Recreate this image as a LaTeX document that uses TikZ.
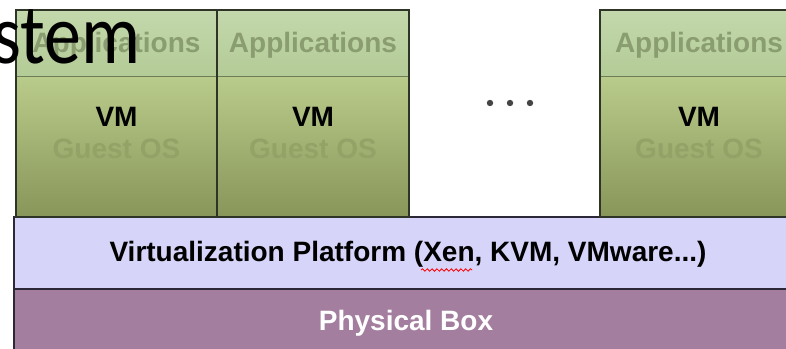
\documentclass[tikz,border=0pt]{standalone}
\usepackage{fontspec}
\setmainfont{Liberation Sans}
\newfontfamily\titlefont{Carlito}
\usetikzlibrary{decorations.pathmorphing}
\definecolor{appgreentop}{HTML}{C3D8AC}
\definecolor{appgreen}{HTML}{B3CB96}
\definecolor{apptext}{HTML}{8A9D70}
\definecolor{appline}{HTML}{6E7F57}
\definecolor{vmtop}{HTML}{B9CB8B}
\definecolor{vmbottom}{HTML}{889659}
\definecolor{ostext}{HTML}{93A368}
\definecolor{boxline}{HTML}{2E3526}
\definecolor{platfill}{HTML}{D6D4F8}
\definecolor{platline}{HTML}{2C2838}
\definecolor{physfill}{HTML}{A47E9F}
\definecolor{dotgray}{HTML}{454545}

\begin{document}
\begin{tikzpicture}[x=0.5pt, y=0.5pt,
    labelfont/.style={font=\bfseries\fontsize{14}{14}\selectfont, inner sep=0pt},
    applabel/.style={labelfont, text=apptext},
    vmlabel/.style={labelfont, text=black},
    oslabel/.style={labelfont, text=ostext}]
  \useasboundingbox (0,0) rectangle (786,348);
  \clip (0,0) rectangle (786,348);
  \fill[white] (0,0) rectangle (786,348);
  % Platform: y = 59 to 131
  \draw[fill=platfill, draw=platline, line width=0.9pt]
    (14,59) rectangle (802,131);
  \node[labelfont] (platform) at (408,94) {Virtualization Platform (Xen, KVM, VMware...)};
  \draw[red, line width=0.4pt, decorate,
    decoration={snake, amplitude=0.6pt, segment length=2.4pt}]
    (421,78) -- (472,78);
  % Physical box: y = -10 to 59
  \draw[fill=physfill, draw=platline, line width=0.9pt]
    (14,-10) rectangle (802,59);
  \node[labelfont, text=white] (physical) at (406,25) {Physical Box};
  % VM 1: x = 16 to 217
  \shade[top color=appgreentop, bottom color=appgreen]
    (16,271) rectangle (217,338);
  \shade[top color=vmtop, bottom color=vmbottom]
    (16,131) rectangle (217,271);
  \draw[appline, line width=0.5pt] (16,271) -- (217,271);
  \draw[boxline, line width=0.9pt] (16,131) rectangle (217,338);
  \node[applabel] (app1) at (116.5,303) {Applications};
  \node[vmlabel] (vm1) at (116.5,231) {VM};
  \node[oslabel] (os1) at (116.5,199) {Guest OS};
  % VM 2: x = 217 to 409
  \shade[top color=appgreentop, bottom color=appgreen]
    (217,271) rectangle (409,338);
  \shade[top color=vmtop, bottom color=vmbottom]
    (217,131) rectangle (409,271);
  \draw[appline, line width=0.5pt] (217,271) -- (409,271);
  \draw[boxline, line width=0.9pt] (217,131) rectangle (409,338);
  \node[applabel] (app2) at (313,303) {Applications};
  \node[vmlabel] (vm2) at (313,231) {VM};
  \node[oslabel] (os2) at (313,199) {Guest OS};
  % gap between VM 2 and VM n
  \fill[dotgray] (490,245) circle (3.2);
  \fill[dotgray] (510,245) circle (3.2);
  \fill[dotgray] (530,245) circle (3.2);
  % VM n: x = 600 to 800
  \shade[top color=appgreentop, bottom color=appgreen]
    (600,271) rectangle (800,338);
  \shade[top color=vmtop, bottom color=vmbottom]
    (600,131) rectangle (800,271);
  \draw[appline, line width=0.5pt] (600,271) -- (800,271);
  \draw[boxline, line width=0.9pt] (600,131) rectangle (800,338);
  \node[applabel] (app3) at (699,303) {Applications};
  \node[vmlabel] (vm3) at (699,231) {VM};
  \node[oslabel] (os3) at (699,199) {Guest OS};
  % slide title, cut off at the left
  \node[anchor=base east, inner sep=0pt, yscale=1.15, transform shape,
    font=\titlefont\fontsize{37}{37}\selectfont] (title) at (141,284) {stem};
\end{tikzpicture}
\end{document}
